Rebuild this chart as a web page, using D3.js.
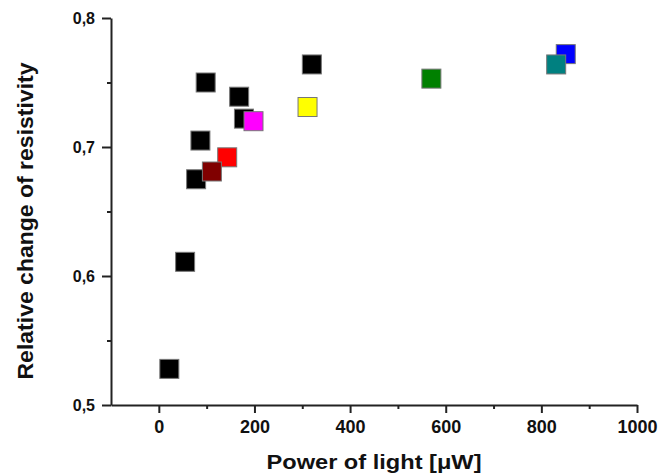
<!DOCTYPE html>
<html>
<head>
<meta charset="utf-8">
<script src="https://cdn.jsdelivr.net/npm/d3@7"></script>
<style>
  body { margin: 0; background: #fff; }
  text { font-family: "Liberation Sans", Arial, sans-serif; font-weight: bold; }
</style>
</head>
<body>
<div id="chart"></div>
<script>
// measured points: power of light (uW) vs relative change of resistivity
const power = [22, 55, 78, 87, 98, 168, 178, 320, 143, 111, 198, 311, 570, 851, 831];
const change = [0.528, 0.611, 0.675, 0.705, 0.750, 0.739, 0.722, 0.764, 0.692, 0.681, 0.720, 0.731, 0.753, 0.772, 0.764];
const colors = ["#000000", "#000000", "#000000", "#000000", "#000000", "#000000", "#000000", "#000000",
  "#ff0000", "#800000", "#ff00ff", "#ffff00", "#008000", "#0000ff", "#008080"];
const xTicks = [0, 200, 400, 600, 800, 1000];
const xMinor = [100, 300, 500, 700, 900];
const yTicks = [0.5, 0.6, 0.7, 0.8];
const yMinor = [0.55, 0.65, 0.75];

const width = 670;
const height = 475;

const svg = d3
  .select("#chart")
  .append("svg")
  .attr("width", width)
  .attr("height", height);

const x = d3.scaleLinear().domain([-100, 1000]).range([111, 637]);
const y = d3.scaleLinear().domain([0.5, 0.8]).range([405, 18]);

const fmt = (d) => d3.format(".1f")(d).replace(".", ",");

svg
  .append("g")
  .attr("transform", `translate(0,${y(0.5)})`)
  .call(d3.axisBottom(x).tickValues(xTicks).tickSize(8).tickSizeOuter(0).tickPadding(7).tickFormat(d3.format("d")))
  .selectAll(".tick text")
  .style("font-size", "18px");

svg
  .append("g")
  .attr("transform", `translate(0,${y(0.5)})`)
  .call(d3.axisBottom(x).tickValues(xMinor).tickSize(4).tickSizeOuter(0).tickFormat(""))
  .select(".domain")
  .remove();

svg
  .append("g")
  .attr("transform", `translate(${x(-100)},0)`)
  .call(d3.axisLeft(y).tickValues(yTicks).tickSize(9).tickSizeOuter(0).tickPadding(7).tickFormat(fmt))
  .selectAll(".tick text")
  .style("font-size", "16px");

svg
  .append("g")
  .attr("transform", `translate(${x(-100)},0)`)
  .call(d3.axisLeft(y).tickValues(yMinor).tickSize(4).tickSizeOuter(0).tickFormat(""))
  .select(".domain")
  .remove();

svg.selectAll(".domain, .tick line").attr("stroke", "#222").attr("stroke-width", 2);
svg.selectAll(".tick text").attr("fill", "#111");

const size = 19;
svg
  .selectAll("rect.pt")
  .data(power)
  .join("rect")
  .attr("class", "pt")
  .attr("x", (d) => x(d) - size / 2)
  .attr("y", (d, i) => y(change[i]) - size / 2)
  .attr("width", size)
  .attr("height", size)
  .attr("fill", (d, i) => colors[i])
  .attr("stroke", "#777")
  .attr("stroke-width", 1);

svg
  .append("text")
  .attr("x", (x(-100) + x(1000)) / 2)
  .attr("y", 469)
  .attr("text-anchor", "middle")
  .attr("textLength", 215)
  .attr("lengthAdjust", "spacingAndGlyphs")
  .style("font-size", "21px")
  .attr("fill", "#111")
  .text("Power of light [μW]");

svg
  .append("text")
  .attr("transform", "translate(33,221) rotate(-90)")
  .attr("text-anchor", "middle")
  .attr("textLength", 317)
  .attr("lengthAdjust", "spacingAndGlyphs")
  .style("font-size", "22px")
  .attr("fill", "#111")
  .text("Relative change of resistivity");
</script>
</body>
</html>
